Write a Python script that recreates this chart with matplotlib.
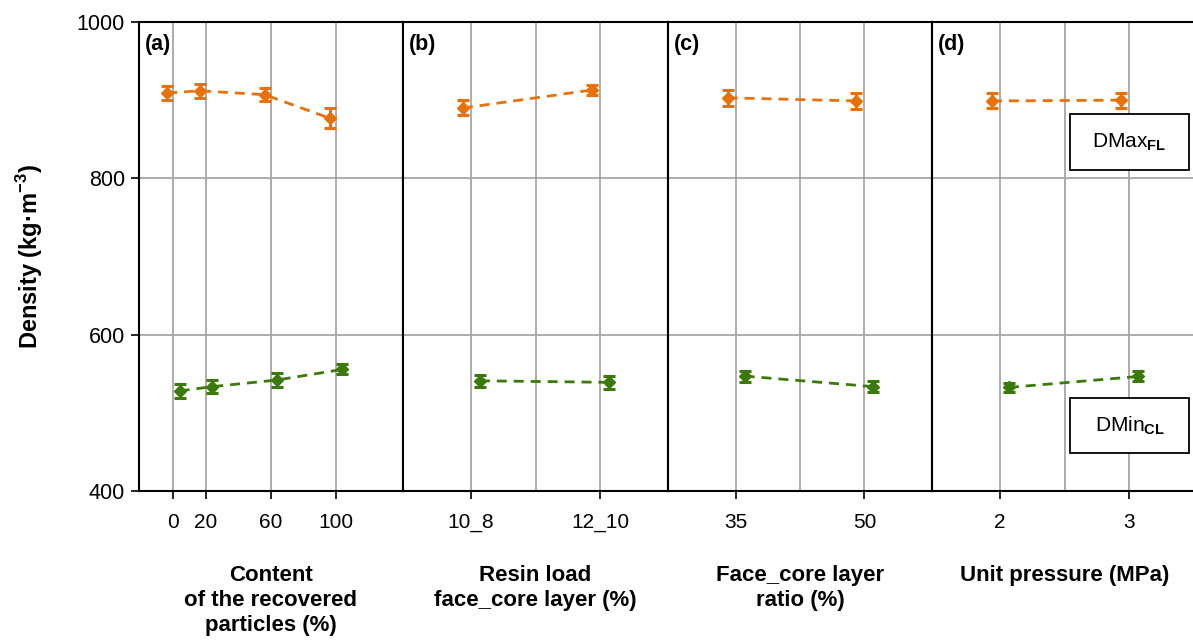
import numpy as np
import matplotlib
matplotlib.use('Agg')
import matplotlib.pyplot as plt
from matplotlib.patches import Rectangle
from matplotlib.transforms import offset_copy

# x categories of each panel
recovered = [0, 20, 60, 100]
resin_load = ['10_8', '12_10']
layer_ratio = ['35', '50']
pressure = ['2', '3']

# maximum density of the face layer (mean, sd)
dmax_a = [909, 912, 907, 877]
dmax_a_err = [9, 9, 8.5, 12.8]
dmax_b = [890, 913]
dmax_b_err = [9.6, 7]
dmax_c = [903, 899]
dmax_c_err = [10, 10.5]
dmax_d = [899, 900]
dmax_d_err = [9.6, 9.8]

# minimum density of the core layer (mean, sd)
dmin_a = [528, 533.5, 542, 555.5]
dmin_a_err = [9, 8, 9, 6.4]
dmin_b = [541, 539]
dmin_b_err = [7.9, 7.9]
dmin_c = [547, 533.5]
dmin_c_err = [7, 7]
dmin_d = [532.5, 546.5]
dmin_d_err = [6.2, 6.4]

panel_tags = ['(a)', '(b)', '(c)', '(d)']
xlabels = ['Content\nof the recovered\nparticles (%)',
           'Resin load\nface_core layer (%)',
           'Face_core layer\nratio (%)',
           'Unit pressure (MPa)']

ORANGE = '#E8710A'
GREEN = '#3B7A0A'
GRID = '#A6A6A6'

plt.rcParams['font.family'] = ['Liberation Sans', 'DejaVu Sans']
plt.rcParams['mathtext.fontset'] = 'custom'
plt.rcParams['mathtext.rm'] = 'Liberation Sans'
plt.rcParams['mathtext.bf'] = 'Liberation Sans:bold'

W, H = 1193, 641
fig = plt.figure(figsize=(W / 100, H / 100), dpi=100)

edges = [139, 403, 668, 932, 1197]
top, bottom = 22, 491

panels = [
    (recovered, dmax_a, dmax_a_err, dmin_a, dmin_a_err),
    (resin_load, dmax_b, dmax_b_err, dmin_b, dmin_b_err),
    (layer_ratio, dmax_c, dmax_c_err, dmin_c, dmin_c_err),
    (pressure, dmax_d, dmax_d_err, dmin_d, dmin_d_err),
]

axes = []
for i, (cats, ymax, emax, ymin, emin) in enumerate(panels):
    ax = fig.add_axes([edges[i] / W, 1 - bottom / H,
                       (edges[i + 1] - edges[i]) / W, (bottom - top) / H])
    axes.append(ax)

    if i == 0:
        xs = np.array(cats, dtype=float)
        ax.set_xlim(-21, 141.5)
        ax.set_xticks(xs)
        ax.set_xticklabels([str(c) for c in cats])
        shift = (-6, 6.5)
    else:
        xs = np.arange(len(cats))
        ax.set_xlim(-0.525, 1.525)
        ax.set_xticks(xs)
        ax.set_xticklabels(cats)
        ax.set_xticks([0.5], minor=True)
        shift = (-8, 9)

    for y, e, c, dx in [(ymax, emax, ORANGE, shift[0]), (ymin, emin, GREEN, shift[1])]:
        tr = offset_copy(ax.transData, fig=fig, x=dx, y=0, units='dots')
        ax.errorbar(xs, y, yerr=e, color=c, marker='D', ms=6.5,
                    ls=(0, (3.6, 2.5)), lw=2, elinewidth=2.2,
                    capsize=4.5, capthick=2.2, transform=tr, zorder=3)

    ax.set_ylim(400, 1000)
    ax.set_yticks([400, 600, 800, 1000])
    ax.grid(True, which='both', color=GRID, lw=1.3)
    ax.set_axisbelow(True)
    ax.tick_params(which='minor', length=0)
    ax.tick_params(axis='x', which='major', length=6, width=1.2,
                   labelsize=15, pad=10)
    for s in ax.spines.values():
        s.set_linewidth(1.5)

    if i == 0:
        ax.tick_params(axis='y', length=6, width=1.2, labelsize=15.5, pad=4)
        ax.set_ylabel('Density (kg·m$^{\\mathbf{-3}}$)', fontsize=17,
                      fontweight='bold', labelpad=23)
    else:
        ax.tick_params(axis='y', length=0, labelleft=False)

    ax.text(0.024, 0.975, panel_tags[i], transform=ax.transAxes,
            fontsize=15.5, fontweight='bold', ha='left', va='top')

    ax.set_xlabel(xlabels[i], fontsize=16, fontweight='bold',
                  linespacing=1.25, va='top')
    ax.xaxis.set_label_coords(0.5, -0.158)

# series labels in panel (d)
axd = axes[3]
for y0, label in [(0.684, 'DMax$_{\\mathbf{FL}}$'), (0.080, 'DMin$_{\\mathbf{CL}}$')]:
    axd.add_patch(Rectangle((0.521, y0), 0.449, 0.119, transform=axd.transAxes,
                            facecolor='white', edgecolor='black', lw=1.3,
                            zorder=5, clip_on=False))
    axd.text(0.7455, y0 + 0.0595, label, transform=axd.transAxes,
             fontsize=15, ha='center', va='center', zorder=6)

fig.savefig('out.png', dpi=100)
